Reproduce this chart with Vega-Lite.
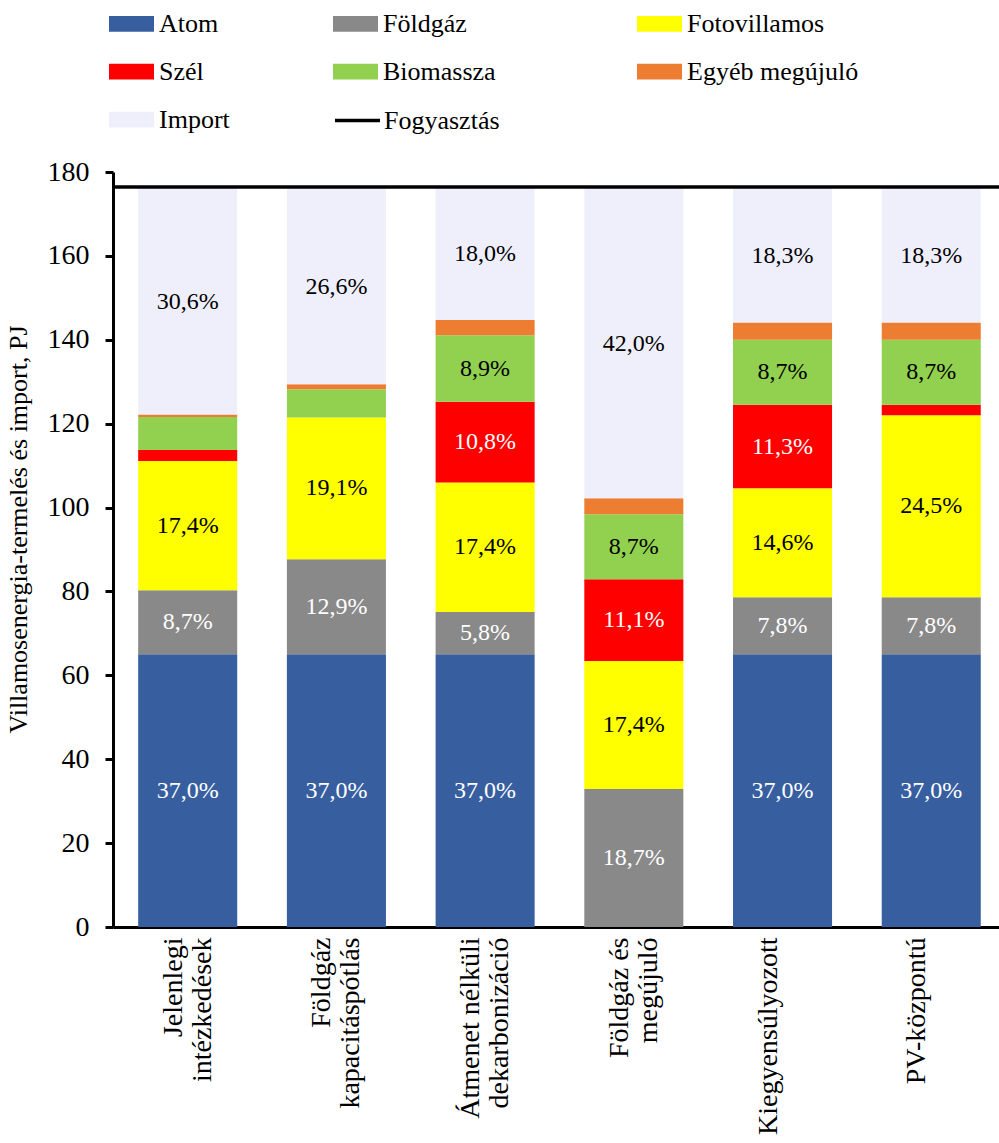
{
  "$schema": "https://vega.github.io/schema/vega-lite/v6.json",
  "width": 886,
  "height": 755,
  "autosize": {"type": "none"},
  "padding": {"left": 113, "top": 172, "right": 0, "bottom": 216},
  "background": "white",
  "config": {"view": {"stroke": null}, "font": "'Liberation Serif', 'DejaVu Serif', serif"},
  "layer": [
    {
      "data": {
        "values": [
          {"scenario": "Jelenlegi intézkedések", "series": "Atom", "rank": 1, "value": 65.0, "label": "37,0%"},
          {"scenario": "Jelenlegi intézkedések", "series": "Földgáz", "rank": 2, "value": 15.3, "label": "8,7%"},
          {"scenario": "Jelenlegi intézkedések", "series": "Fotovillamos", "rank": 3, "value": 30.8, "label": "17,4%"},
          {"scenario": "Jelenlegi intézkedések", "series": "Szél", "rank": 4, "value": 2.6, "label": ""},
          {"scenario": "Jelenlegi intézkedések", "series": "Biomassza", "rank": 5, "value": 7.9, "label": ""},
          {"scenario": "Jelenlegi intézkedések", "series": "Egyéb megújuló", "rank": 6, "value": 0.6, "label": ""},
          {"scenario": "Jelenlegi intézkedések", "series": "Import", "rank": 7, "value": 53.8, "label": "30,6%"},

          {"scenario": "Földgáz kapacitáspótlás", "series": "Atom", "rank": 1, "value": 65.0, "label": "37,0%"},
          {"scenario": "Földgáz kapacitáspótlás", "series": "Földgáz", "rank": 2, "value": 22.7, "label": "12,9%"},
          {"scenario": "Földgáz kapacitáspótlás", "series": "Fotovillamos", "rank": 3, "value": 33.8, "label": "19,1%"},
          {"scenario": "Földgáz kapacitáspótlás", "series": "Biomassza", "rank": 5, "value": 6.7, "label": ""},
          {"scenario": "Földgáz kapacitáspótlás", "series": "Egyéb megújuló", "rank": 6, "value": 1.2, "label": ""},
          {"scenario": "Földgáz kapacitáspótlás", "series": "Import", "rank": 7, "value": 46.6, "label": "26,6%"},

          {"scenario": "Átmenet nélküli dekarbonizáció", "series": "Atom", "rank": 1, "value": 65.0, "label": "37,0%"},
          {"scenario": "Átmenet nélküli dekarbonizáció", "series": "Földgáz", "rank": 2, "value": 10.1, "label": "5,8%"},
          {"scenario": "Átmenet nélküli dekarbonizáció", "series": "Fotovillamos", "rank": 3, "value": 30.9, "label": "17,4%"},
          {"scenario": "Átmenet nélküli dekarbonizáció", "series": "Szél", "rank": 4, "value": 19.2, "label": "10,8%"},
          {"scenario": "Átmenet nélküli dekarbonizáció", "series": "Biomassza", "rank": 5, "value": 15.9, "label": "8,9%"},
          {"scenario": "Átmenet nélküli dekarbonizáció", "series": "Egyéb megújuló", "rank": 6, "value": 3.6, "label": ""},
          {"scenario": "Átmenet nélküli dekarbonizáció", "series": "Import", "rank": 7, "value": 31.3, "label": "18,0%"},

          {"scenario": "Földgáz és megújuló", "series": "Földgáz", "rank": 2, "value": 32.9, "label": "18,7%"},
          {"scenario": "Földgáz és megújuló", "series": "Fotovillamos", "rank": 3, "value": 30.5, "label": "17,4%"},
          {"scenario": "Földgáz és megújuló", "series": "Szél", "rank": 4, "value": 19.5, "label": "11,1%"},
          {"scenario": "Földgáz és megújuló", "series": "Biomassza", "rank": 5, "value": 15.5, "label": "8,7%"},
          {"scenario": "Földgáz és megújuló", "series": "Egyéb megújuló", "rank": 6, "value": 3.8, "label": ""},
          {"scenario": "Földgáz és megújuló", "series": "Import", "rank": 7, "value": 73.8, "label": "42,0%"},

          {"scenario": "Kiegyensúlyozott", "series": "Atom", "rank": 1, "value": 65.0, "label": "37,0%"},
          {"scenario": "Kiegyensúlyozott", "series": "Földgáz", "rank": 2, "value": 13.6, "label": "7,8%"},
          {"scenario": "Kiegyensúlyozott", "series": "Fotovillamos", "rank": 3, "value": 26.0, "label": "14,6%"},
          {"scenario": "Kiegyensúlyozott", "series": "Szél", "rank": 4, "value": 19.9, "label": "11,3%"},
          {"scenario": "Kiegyensúlyozott", "series": "Biomassza", "rank": 5, "value": 15.5, "label": "8,7%"},
          {"scenario": "Kiegyensúlyozott", "series": "Egyéb megújuló", "rank": 6, "value": 4.1, "label": ""},
          {"scenario": "Kiegyensúlyozott", "series": "Import", "rank": 7, "value": 31.9, "label": "18,3%"},

          {"scenario": "PV-központú", "series": "Atom", "rank": 1, "value": 65.0, "label": "37,0%"},
          {"scenario": "PV-központú", "series": "Földgáz", "rank": 2, "value": 13.6, "label": "7,8%"},
          {"scenario": "PV-központú", "series": "Fotovillamos", "rank": 3, "value": 43.4, "label": "24,5%"},
          {"scenario": "PV-központú", "series": "Szél", "rank": 4, "value": 2.5, "label": ""},
          {"scenario": "PV-központú", "series": "Biomassza", "rank": 5, "value": 15.5, "label": "8,7%"},
          {"scenario": "PV-központú", "series": "Egyéb megújuló", "rank": 6, "value": 4.1, "label": ""},
          {"scenario": "PV-központú", "series": "Import", "rank": 7, "value": 31.9, "label": "18,3%"}
        ]
      },
      "layer": [
        {
          "mark": {"type": "bar"},
          "encoding": {
            "x": {
              "field": "scenario", "type": "nominal", "sort": null,
              "scale": {"paddingInner": 0.334, "paddingOuter": 0.146, "align": 0.58},
              "axis": {
                "title": null, "labelAngle": -90, "labelFontSize": 28, "labelBaseline": "line-bottom",
                "labelColor": "black", "ticks": false, "domainColor": "black", "domainWidth": 3,
                "labelPadding": 10, "labelLineHeight": 29, "labelLimit": 400,
                "labelExpr": "lastindexof(datum.value, ' ') > 0 ? [substring(datum.value, 0, lastindexof(datum.value, ' ')), substring(datum.value, lastindexof(datum.value, ' ') + 1)] : datum.value"
              }
            },
            "y": {
              "field": "value", "type": "quantitative", "stack": "zero",
              "scale": {"domain": [0, 180], "nice": false},
              "axis": {
                "title": "Villamosenergia-termelés és import, PJ",
                "titleFontSize": 26, "titleFontWeight": "normal",
                "titleColor": "black", "titlePadding": 16, "titleY": 357,
                "labelFontSize": 28, "labelColor": "black",
                "values": [0, 20, 40, 60, 80, 100, 120, 140, 160, 180],
                "grid": false, "tickSize": 8, "tickWidth": 3, "tickColor": "black",
                "domainColor": "black", "domainWidth": 3, "labelPadding": 16
              }
            },
            "color": {
              "field": "series", "type": "nominal",
              "scale": {
                "domain": ["Atom", "Földgáz", "Fotovillamos", "Szél", "Biomassza", "Egyéb megújuló", "Import"],
                "range": ["#375E9F", "#898989", "#FFFF00", "#FF0000", "#92D050", "#ED7D31", "#EFEFFB"]
              },
              "legend": {
                "orient": "none", "legendX": -4, "legendY": -171, "columns": 3, "direction": "horizontal",
                "columnPadding": 103, "rowPadding": 12, "title": null, "padding": 0,
                "gridAlign": "each",
                "labelFontSize": 26, "labelColor": "black",
                "labelOffset": 5, "labelLimit": 400,
                "symbolType": "M-1,-0.35H1V0.35H-1Z", "symbolSize": 2025, "symbolStrokeWidth": 0,
                "labelExpr": "datum.value === 'Biomassza' ? 'Biomassza\u2800\u2800' : datum.label"
              }
            },
            "order": {"field": "rank", "type": "quantitative"}
          }
        },
        {
          "mark": {"type": "text", "fontSize": 24, "baseline": "middle"},
          "encoding": {
            "x": {"field": "scenario", "type": "nominal", "sort": null},
            "y": {"field": "value", "type": "quantitative", "stack": "zero", "bandPosition": 0.5},
            "order": {"field": "rank", "type": "quantitative"},
            "text": {"field": "label"},
            "color": {
              "condition": {"test": "datum.series === 'Atom' || datum.series === 'Földgáz' || datum.series === 'Szél'", "value": "#ffffff"},
              "value": "#000000"
            }
          }
        }
      ]
    },
    {
      "data": {"values": [{"name": "Fogyasztás", "value": 176.4}]},
      "mark": {"type": "rule", "strokeWidth": 3.5},
      "encoding": {
        "y": {"field": "value", "type": "quantitative"},
        "stroke": {
          "field": "name", "type": "nominal",
          "scale": {"domain": ["Fogyasztás"], "range": ["#000000"]},
          "legend": {
            "orient": "none", "legendX": 220, "legendY": -76, "title": null, "padding": 0,
            "labelFontSize": 26, "labelColor": "black",
            "labelOffset": 2, "symbolType": "stroke", "symbolSize": 2025, "symbolStrokeWidth": 3.5
          }
        }
      }
    }
  ]
}
